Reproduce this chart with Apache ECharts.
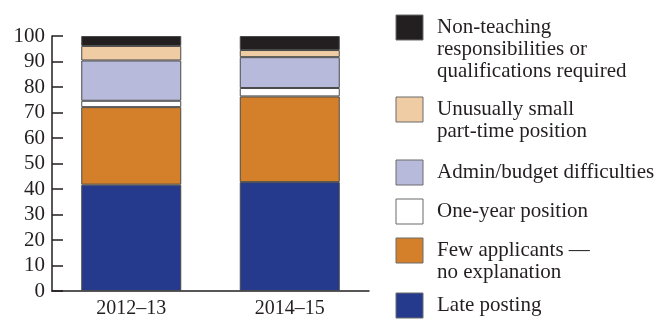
<!DOCTYPE html>
<html>
<head>
<meta charset="utf-8">
<script src="https://cdn.jsdelivr.net/npm/echarts@6/dist/echarts.min.js"></script>
<style>
  html, body { margin: 0; padding: 0; background: #fff; }
  #chart { width: 660px; height: 319px; }
</style>
</head>
<body>
<div id="chart"></div>
<script>
// categories and values, bottom of the stack first
var years = ['2012\u201313', '2014\u201315']
var latePosting = [41.7, 42.7]
var fewApplicants = [30.4, 33.6]
var oneYear = [2.5, 3.3]
var adminBudget = [15.8, 12.1]
var smallPartTime = [5.7, 2.8]
var nonTeaching = [3.9, 5.5]

var seriesNames = [
  'Late posting',
  'Few applicants \u2014\nno explanation',
  'One-year position',
  'Admin/budget difficulties',
  'Unusually small\npart-time position',
  'Non-teaching\nresponsibilities or\nqualifications required'
]
var seriesValues = [latePosting, fewApplicants, oneYear, adminBudget, smallPartTime, nonTeaching]
var colors = ['#263a8d', '#d4802b', '#ffffff', '#b8badb', '#f0cca4', '#231f20']

var ink = '#231f20'
var font = 'Liberation Serif'

var myChart = echarts.init(document.getElementById('chart'))

var series = seriesNames.map(function (name, i) {
  return {
    name: name,
    type: 'bar',
    stack: 'total',
    barWidth: 100,
    data: seriesValues[i],
    itemStyle: { color: colors[i], borderColor: '#4a4a4a', borderWidth: 1 }
  }
})

// legend drawn top to bottom: last series first
var legendTops = [15, 97, 160, 199, 238, 293]
var legendItems = []
for (var k = 0; k < seriesNames.length; k++) {
  var idx = seriesNames.length - 1 - k
  legendItems.push({
    type: 'rect',
    shape: { x: 396, y: legendTops[k], width: 27, height: 25 },
    style: { fill: colors[idx], stroke: '#6a6a6a', lineWidth: 1 }
  })
  legendItems.push({
    type: 'text',
    x: 437,
    y: legendTops[k] + 1.5,
    style: {
      text: seriesNames[idx],
      font: '21px "' + font + '"',
      fill: ink,
      lineHeight: 22,
      verticalAlign: 'top'
    }
  })
}

var option = {
  animation: false,
  grid: { left: 52, width: 317, top: 36, bottom: 27 },
  xAxis: {
    type: 'category',
    data: years,
    axisLine: { lineStyle: { color: ink, width: 1.5 } },
    axisTick: { inside: true, length: 6, lineStyle: { color: ink, width: 1.5 } },
    axisLabel: { color: ink, fontFamily: font, fontSize: 20, margin: 8 }
  },
  yAxis: {
    type: 'value',
    min: 0,
    max: 100,
    interval: 10,
    splitLine: { show: false },
    axisLine: { show: true, lineStyle: { color: ink, width: 1.5 } },
    axisTick: { show: true, inside: true, length: 11, lineStyle: { color: ink, width: 1.5 } },
    axisLabel: { color: ink, fontFamily: font, fontSize: 21, margin: 7 }
  },
  graphic: legendItems,
  series: series
}
myChart.setOption(option)
</script>
</body>
</html>
